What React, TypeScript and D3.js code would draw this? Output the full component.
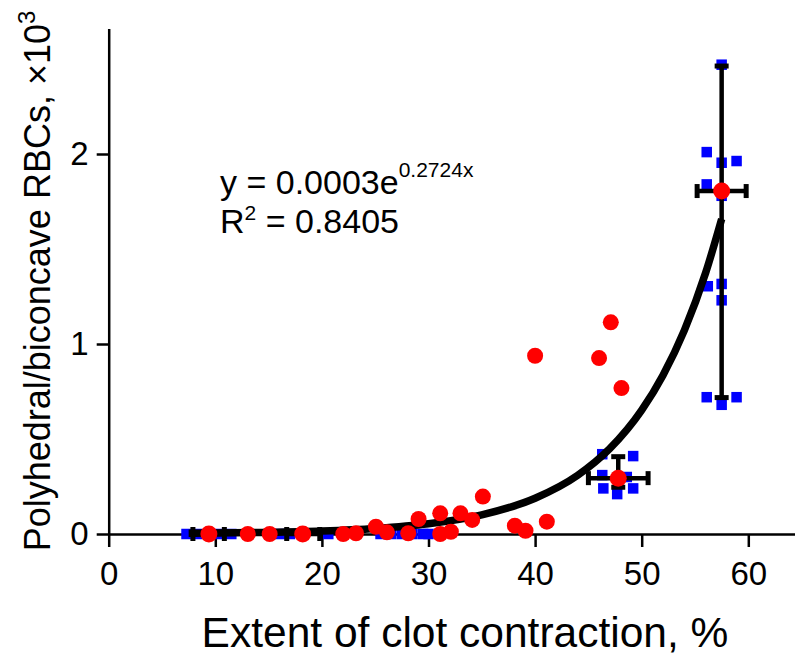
import React, { useEffect, useRef } from "react";
import * as d3 from "d3";

// ---------- data ----------
const xTicks = [0, 10, 20, 30, 40, 50, 60];
const yTicks = [0, 1, 2];

// individual red points
const redX = [13.05, 15.1, 22.0, 23.2, 25.07, 26.1, 28.1, 29.07, 31.1, 31.1, 32.1, 33.0, 34.1, 35.1, 38.1, 39.1, 40.0, 41.1, 46.0, 47.1, 48.1];
const redY = [0, 0, 0, 0.004, 0.038, 0.009, 0.004, 0.079, 0.109, 0.0, 0.012, 0.109, 0.074, 0.197, 0.044, 0.017, 0.938, 0.065, 0.926, 1.114, 0.768];

// blue squares
const blueX = [7.3, 8.3, 9.4, 10.4, 11.5, 16.1, 17.0, 18.3, 20.6, 25.5, 26.5, 27.5, 28.5, 29.5, 30.0,
  46.3, 49.2, 46.3, 48.6, 46.4, 49.2, 47.7,
  57.5, 56.1, 57.5, 58.9, 56.1, 57.5, 56.2, 57.5, 57.5, 56.1, 58.9, 57.5];
const blueY = [0, 0, 0, 0, 0, 0, 0, 0, 0, 0, 0, 0, 0, 0, 0,
  0.42, 0.41, 0.31, 0.30, 0.24, 0.24, 0.21,
  2.47, 2.01, 1.954, 1.963, 1.84, 1.78, 1.304, 1.316, 1.23, 0.72, 0.72, 0.68];

// group means with error bars
const meanX = [9.4, 18.2, 47.8, 57.5];
const meanY = [0, 0, 0.294, 1.805];
const errXLo = [7.9, 16.7, 45.0, 55.2];
const errXHi = [10.85, 19.8, 50.6, 59.8];
const errYLo = [0, 0, 0.246, 0.718];
const errYHi = [0, 0, 0.407, 2.463];

// trend line
const trendX = [7.5, 15, 20, 25, 30, 35, 40, 44, 47, 50, 52, 54, 56, 57.5];
const trendY = [0.0033, 0.0083, 0.0156, 0.029, 0.054, 0.101, 0.188, 0.309, 0.449, 0.652, 0.836, 1.072, 1.375, 1.658];

const FONT = "'Liberation Sans', Arial, Helvetica, sans-serif";

export default function App() {
  const ref = useRef<SVGSVGElement | null>(null);

  useEffect(() => {
    const svg = d3.select(ref.current);
    svg.selectAll("*").remove();

    const x = d3.scaleLinear().domain([0, 65]).range([108.7, 108.7 + 65 * 10.66]);
    const y = d3.scaleLinear().domain([0, 2.66]).range([534, 534 - 2.66 * 190]);

    // axes
    const gx = svg.append("g").attr("transform", `translate(0,${y(0)})`)
      .call(d3.axisBottom(x).tickValues(xTicks).tickSize(13).tickPadding(15).tickSizeOuter(0).tickFormat(d3.format("d")));
    const gy = svg.append("g").attr("transform", `translate(${x(0)},0)`)
      .call(d3.axisLeft(y).tickValues(yTicks).tickSize(12).tickPadding(8).tickSizeOuter(0).tickFormat(d3.format("d")));
    [gx, gy].forEach((g) => {
      g.select(".domain").attr("stroke", "#000").attr("stroke-width", 2.5);
      g.selectAll(".tick line").attr("stroke", "#000").attr("stroke-width", 2.5);
      g.selectAll(".tick text").attr("fill", "#000").attr("font-family", FONT).attr("font-size", 33);
    });

    // blue squares
    const s = 10.5;
    svg.append("g").selectAll("rect").data(d3.range(blueX.length)).enter().append("rect")
      .attr("x", (i) => x(blueX[i]) - s / 2)
      .attr("y", (i) => y(blueY[i]) - s / 2)
      .attr("width", s).attr("height", s)
      .attr("fill", "#0000ff");

    // trend line
    const line = d3.line<number>().x((i) => x(trendX[i])).y((i) => y(trendY[i])).curve(d3.curveMonotoneX);
    svg.append("path").attr("d", line(d3.range(trendX.length)))
      .attr("fill", "none").attr("stroke", "#000").attr("stroke-width", 7.5);

    // error bars
    const eg = svg.append("g").attr("stroke", "#000");
    const cap = 7;
    meanX.forEach((mx, i) => {
      const cx = x(mx), cy = y(meanY[i]);
      if (errYHi[i] !== errYLo[i]) {
        eg.append("line").attr("x1", cx).attr("x2", cx).attr("y1", y(errYLo[i])).attr("y2", y(errYHi[i])).attr("stroke-width", 4.5);
        [errYLo[i], errYHi[i]].forEach((v) => {
          eg.append("line").attr("x1", cx - cap).attr("x2", cx + cap).attr("y1", y(v)).attr("y2", y(v)).attr("stroke-width", 5);
        });
      }
      eg.append("line").attr("x1", x(errXLo[i])).attr("x2", x(errXHi[i])).attr("y1", cy).attr("y2", cy).attr("stroke-width", 4.5);
      [errXLo[i], errXHi[i]].forEach((v) => {
        eg.append("line").attr("x1", x(v)).attr("x2", x(v)).attr("y1", cy - cap).attr("y2", cy + cap).attr("stroke-width", 5);
      });
    });

    // red circles
    const rg = svg.append("g").attr("fill", "#ff0000");
    redX.forEach((rx, i) => {
      rg.append("circle").attr("cx", x(rx)).attr("cy", y(redY[i])).attr("r", 8);
    });
    meanX.forEach((mx, i) => {
      rg.append("circle").attr("cx", x(mx)).attr("cy", y(meanY[i])).attr("r", 8.5);
    });

    // equation text
    const t1 = svg.append("text").attr("x", 220).attr("y", 194).attr("font-family", FONT).attr("font-size", 34).attr("fill", "#000");
    t1.append("tspan").text("y = 0.0003e");
    t1.append("tspan").attr("font-size", 21).attr("dy", -17).text("0.2724x");
    const t2 = svg.append("text").attr("x", 220).attr("y", 233).attr("font-family", FONT).attr("font-size", 34).attr("fill", "#000");
    t2.append("tspan").text("R");
    t2.append("tspan").attr("font-size", 21).attr("dy", -13).text("2");
    t2.append("tspan").attr("dy", 13).text(" = 0.8405");

    // axis titles
    svg.append("text").attr("x", 465).attr("y", 647).attr("text-anchor", "middle")
      .attr("font-family", FONT).attr("font-size", 42.5).attr("fill", "#000")
      .text("Extent of clot contraction, %");
    const yt = svg.append("text").attr("transform", `translate(50,281) rotate(-90)`).attr("text-anchor", "middle")
      .attr("font-family", FONT).attr("font-size", 36).attr("fill", "#000");
    yt.append("tspan").text("Polyhedral/biconcave RBCs, ×10");
    yt.append("tspan").attr("font-size", 24).attr("dy", -15).text("3");
  }, []);

  return (
    <svg ref={ref} width={795} height={658} style={{ position: "absolute", left: 0, top: 0, background: "#fff" }} />
  );
}
